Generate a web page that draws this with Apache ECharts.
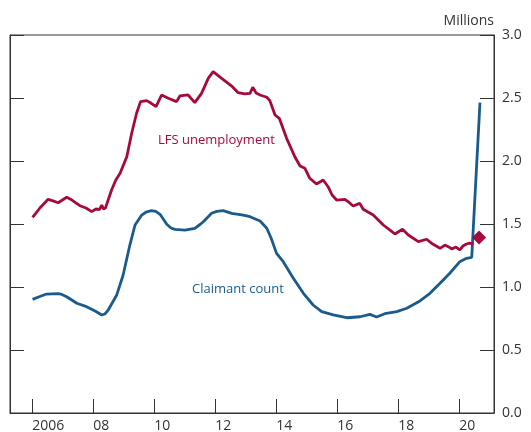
<!DOCTYPE html>
<html>
<head>
<meta charset="utf-8">
<script src="https://cdn.jsdelivr.net/npm/echarts@6/dist/echarts.min.js"></script>
<style>
  html, body { margin: 0; padding: 0; background: #fff; }
  #chart { width: 531px; height: 432px; }
</style>
</head>
<body>
<div id="chart"></div>
<script>
// values: [year, millions]
const lfsUnemployment = [
  [2006.01, 1.553], [2006.25, 1.627], [2006.52, 1.696], [2006.68, 1.683], [2006.85, 1.669],
  [2007.13, 1.712], [2007.30, 1.690], [2007.56, 1.645], [2007.76, 1.627], [2007.95, 1.598],
  [2008.09, 1.619], [2008.20, 1.615], [2008.28, 1.650], [2008.33, 1.619], [2008.40, 1.627],
  [2008.60, 1.770], [2008.74, 1.849], [2008.88, 1.902], [2009.10, 2.034], [2009.26, 2.220],
  [2009.42, 2.379], [2009.55, 2.471], [2009.75, 2.479], [2009.89, 2.460], [2010.06, 2.431],
  [2010.24, 2.524], [2010.46, 2.498], [2010.73, 2.471], [2010.84, 2.516], [2011.11, 2.524],
  [2011.33, 2.463], [2011.55, 2.537], [2011.77, 2.656], [2011.93, 2.709], [2012.21, 2.656],
  [2012.54, 2.595], [2012.75, 2.542], [2012.97, 2.532], [2013.14, 2.537], [2013.23, 2.585],
  [2013.34, 2.540], [2013.47, 2.524], [2013.69, 2.506], [2013.79, 2.479], [2013.96, 2.365],
  [2014.10, 2.339], [2014.34, 2.180], [2014.61, 2.034], [2014.78, 1.960], [2014.94, 1.942],
  [2015.10, 1.863], [2015.32, 1.817], [2015.54, 1.849], [2015.70, 1.796], [2015.83, 1.730],
  [2015.98, 1.690], [2016.25, 1.696], [2016.41, 1.667], [2016.52, 1.643], [2016.74, 1.664],
  [2016.85, 1.617], [2017.18, 1.571], [2017.51, 1.492], [2017.89, 1.421], [2018.14, 1.458],
  [2018.33, 1.413], [2018.66, 1.360], [2018.93, 1.379], [2019.13, 1.341], [2019.37, 1.307],
  [2019.53, 1.333], [2019.64, 1.320], [2019.76, 1.302], [2019.89, 1.317], [2020.02, 1.294],
  [2020.12, 1.325], [2020.24, 1.341], [2020.34, 1.349], [2020.46, 1.341]
];
const lfsLatest = [[2020.65, 1.393]];

const claimantCount = [
  [2006.01, 0.902], [2006.25, 0.925], [2006.47, 0.944], [2006.85, 0.947], [2006.97, 0.941],
  [2007.13, 0.923], [2007.46, 0.871], [2007.78, 0.844], [2008.06, 0.810], [2008.28, 0.778],
  [2008.38, 0.786], [2008.49, 0.817], [2008.77, 0.937], [2008.98, 1.095], [2009.20, 1.333],
  [2009.37, 1.492], [2009.59, 1.571], [2009.73, 1.595], [2009.91, 1.606], [2010.05, 1.600],
  [2010.19, 1.577], [2010.41, 1.498], [2010.55, 1.468], [2010.68, 1.458], [2011.01, 1.452],
  [2011.33, 1.466], [2011.50, 1.496], [2011.61, 1.518], [2011.88, 1.585], [2012.05, 1.600],
  [2012.26, 1.606], [2012.54, 1.585], [2012.92, 1.571], [2013.14, 1.558], [2013.47, 1.524],
  [2013.69, 1.466], [2013.83, 1.389], [2014.01, 1.267], [2014.23, 1.201], [2014.56, 1.069],
  [2014.89, 0.950], [2015.21, 0.857], [2015.49, 0.804], [2015.87, 0.778], [2016.31, 0.756],
  [2016.75, 0.764], [2017.07, 0.783], [2017.29, 0.762], [2017.56, 0.788], [2017.95, 0.804],
  [2018.28, 0.831], [2018.71, 0.889], [2019.04, 0.950], [2019.37, 1.029], [2019.69, 1.109],
  [2020.02, 1.201], [2020.24, 1.228], [2020.41, 1.236], [2020.68, 2.463]
];

const yearTicks = [2006, 2008, 2010, 2012, 2014, 2016, 2018, 2020];
const yearLabels = ["2006", "08", "10", "12", "14", "16", "18", "20"];

const red = "#a6093d";
const blue = "#1b5b8c";
const ink = "#333333";
const font = "Open Sans";

const chart = echarts.init(document.getElementById("chart"));

const frameAxis = { show: true, lineStyle: { color: ink, width: 1 } };
const tick = { show: true, inside: true, length: 14, lineStyle: { color: ink, width: 1 } };

chart.setOption({
  animation: false,
  textStyle: { fontFamily: font },
  grid: {
    left: 10, right: 37, top: 35, bottom: 19,
    outerBoundsMode: "none",
    show: true, borderColor: ink, borderWidth: 1,
  },
  xAxis: {
    type: "value",
    min: 2005.27,
    max: 2021.14,
    axisLine: frameAxis,
    axisTick: { ...tick, customValues: yearTicks },
    splitLine: { show: false },
    axisLabel: {
      customValues: yearTicks,
      align: "left",
      margin: 6,
      color: ink,
      fontSize: 14,
      fontFamily: font,
      formatter: (v) => yearLabels[yearTicks.indexOf(Math.round(v))] ?? "",
    },
  },
  yAxis: [
    {
      type: "value",
      position: "left",
      min: 0, max: 3, interval: 0.5,
      axisLine: frameAxis,
      axisTick: tick,
      axisLabel: { show: false },
      splitLine: { show: false },
    },
    {
      type: "value",
      position: "right",
      min: 0, max: 3, interval: 0.5,
      name: "Millions",
      nameLocation: "end",
      nameGap: 14,
      nameTextStyle: { align: "right", verticalAlign: "middle", color: ink, fontSize: 14, fontFamily: font },
      axisLine: frameAxis,
      axisTick: tick,
      axisLabel: {
        margin: 8,
        color: ink,
        fontSize: 14,
        fontFamily: font,
        formatter: (v) => v.toFixed(1),
      },
      splitLine: { show: false },
    },
  ],
  series: [
    {
      name: "LFS unemployment",
      type: "line",
      data: lfsUnemployment,
      showSymbol: false,
      lineStyle: { color: red, width: 2.8 },
      z: 3,
    },
    {
      name: "LFS latest",
      type: "scatter",
      data: lfsLatest,
      symbol: "diamond",
      symbolSize: 14,
      itemStyle: { color: red, opacity: 1 },
      z: 4,
    },
    {
      name: "Claimant count",
      type: "line",
      data: claimantCount,
      showSymbol: false,
      lineStyle: { color: blue, width: 2.8 },
      z: 2,
    },
  ],
  graphic: [
    {
      type: "text", left: 158, top: 134,
      style: { text: "LFS unemployment", fill: red, fontSize: 13, fontFamily: font },
    },
    {
      type: "text", left: 192, top: 283,
      style: { text: "Claimant count", fill: blue, fontSize: 13, fontFamily: font },
    },
  ],
});
</script>
</body>
</html>
